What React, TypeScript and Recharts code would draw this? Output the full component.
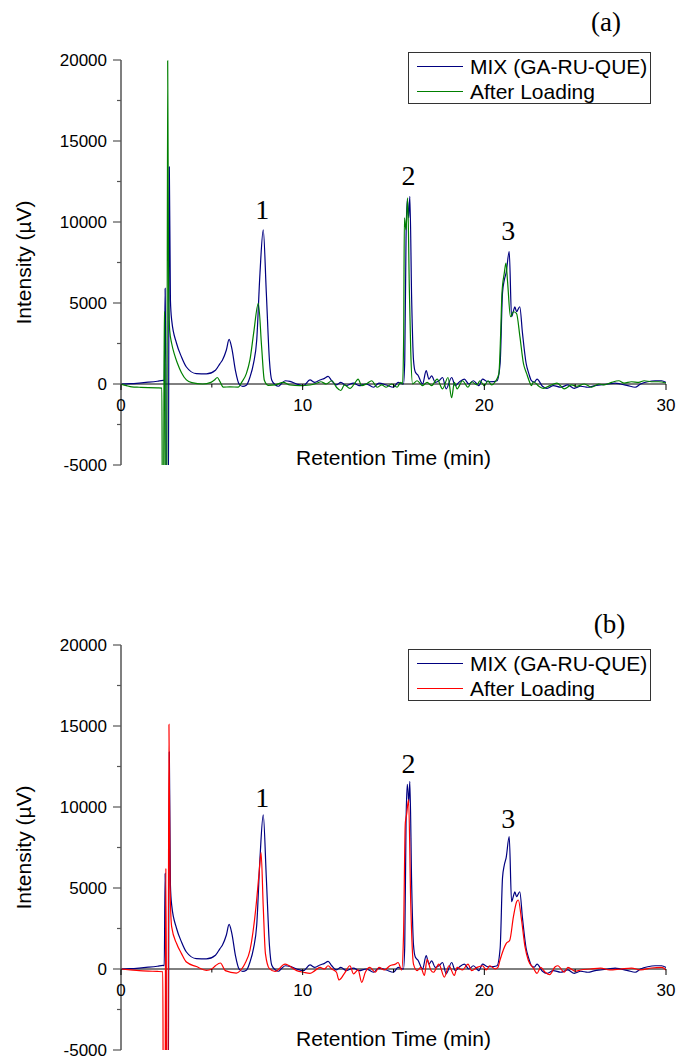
import { LineChart, Line, XAxis, YAxis, ReferenceLine, ReferenceDot, Legend } from "recharts";

// chromatogram traces as [retention time (min), intensity (µV)]
const mixTrace = [
  [0, 0], [0.5, 20], [1.0, 60], [1.5, 110], [2.0, 170], [2.32, 220], [2.38, 200], [2.43, 5900], [2.47, 1000],
  [2.51, -9000], [2.6, -9000], [2.66, 13400], [2.72, 5200], [2.79, 3940], [3.06, 2500], [3.33, 1670], [3.6, 1050],
  [4.15, 640], [4.7, 620], [5.2, 850], [5.45, 1260], [5.58, 1470], [5.8, 2100], [5.95, 2750], [6.1, 2200], [6.3, 830],
  [6.5, 0], [6.7, -150], [6.9, -80], [7.1, 430], [7.3, 1300], [7.47, 2700], [7.65, 6840], [7.83, 9520], [8.0, 5620],
  [8.17, 1470], [8.3, 230], [8.5, -60], [8.66, -140], [8.85, 50], [9.05, 200], [9.3, 160], [9.67, 0], [10.04, -100],
  [10.4, 250], [10.67, 100], [10.95, 250], [11.2, 350], [11.4, 470], [11.6, 200], [11.86, -60], [12.1, 100], [12.4, -100],
  [12.8, 60], [13.1, -100], [13.5, 0], [13.9, -200], [14.2, 60], [14.6, -60], [15.0, -200], [15.25, 100], [15.55, 0],
  [15.62, 1500], [15.69, 9000], [15.76, 11400], [15.84, 10250], [15.9, 11590], [16.0, 5200], [16.1, 1500], [16.2, 740],
  [16.35, 540], [16.6, 0], [16.8, 820], [16.95, 300], [17.1, 500], [17.3, 100], [17.5, 200], [17.7, 400], [17.9, -300],
  [18.2, 400], [18.4, -100], [18.6, 100], [18.9, 300], [19.15, 0], [19.4, 200], [19.7, -100], [19.9, 300], [20.2, 140],
  [20.5, 150], [20.7, 200], [20.87, 1280], [21.0, 5620], [21.1, 6420], [21.2, 6860], [21.37, 8180], [21.5, 4150],
  [21.6, 4500], [21.68, 4770], [21.77, 4460], [21.95, 4770], [22.1, 3140], [22.3, 1280], [22.45, 640], [22.58, 230],
  [22.75, 120], [22.9, 300], [23.2, -140], [23.45, -270], [23.8, -100], [24.2, -200], [24.6, -60], [24.95, -270],
  [25.3, -140], [25.7, -200], [26.1, -100], [26.4, -60], [26.8, 0], [27.2, 60], [27.5, 0], [27.9, -100], [28.3, -200],
  [28.6, 0], [29.0, 140], [29.4, 200], [29.76, 200], [30.0, 100],
];

const loadedTraceA = [
  [0, 0], [0.3, -100], [0.6, -180], [1.0, -200], [1.5, -220], [2.0, -240], [2.25, -250], [2.28, -9000], [2.34, -9000],
  [2.38, 4460], [2.41, 4460], [2.45, -9000], [2.52, -9000], [2.57, 19950], [2.62, 6000], [2.68, 3300], [2.79, 2500],
  [2.95, 1800], [3.1, 1300], [3.33, 700], [3.6, 250], [3.9, 80], [4.5, 0], [4.95, 100], [5.15, 250], [5.3, 400],
  [5.45, 150], [5.63, -190], [6.0, -180], [6.46, -190], [6.64, 100], [6.9, 640], [7.1, 1500], [7.3, 3120], [7.56, 4980],
  [7.74, 2300], [7.89, 230], [8.1, -80], [8.5, -50], [8.93, 100], [9.3, -60], [9.85, -100], [10.4, -60], [10.8, 60],
  [11.0, 140], [11.3, 0], [11.6, 200], [11.86, -200], [12.1, -400], [12.3, -60], [12.6, -270], [12.9, 100], [13.05, 300],
  [13.25, -100], [13.5, 0], [13.8, 200], [14.1, -200], [14.35, -60], [14.6, -200], [14.9, 0], [15.2, -200], [15.4, 100],
  [15.5, 0], [15.56, 3000], [15.6, 10250], [15.69, 9520], [15.78, 11490], [15.87, 6000], [15.95, 2000], [16.05, 0],
  [16.3, 200], [16.6, -100], [16.85, 100], [17.1, -100], [17.4, 300], [17.7, -300], [18.0, 400], [18.2, -850],
  [18.35, 100], [18.5, -300], [18.8, 200], [19.1, -200], [19.3, 140], [19.6, -60], [19.76, 200], [20.0, -100],
  [20.2, 200], [20.4, -60], [20.6, 140], [20.8, 640], [20.9, 3140], [20.97, 5600], [21.1, 6860], [21.19, 7460],
  [21.28, 6300], [21.44, 4150], [21.6, 4460], [21.77, 4360], [21.96, 2910], [22.15, 1280], [22.33, 640], [22.5, 100],
  [22.6, -100], [22.7, 140], [23.0, -140], [23.25, -270], [23.6, -100], [24.0, 60], [24.4, -300], [24.8, -60],
  [25.1, -140], [25.5, 0], [25.9, -200], [26.3, 0], [26.6, -60], [27.0, 100], [27.4, 200], [27.7, 60], [28.1, 140],
  [28.5, 100], [28.8, 200], [29.2, 140], [29.6, 140], [30.0, 60],
];

const loadedTraceB = [
  [0, 0], [0.5, -50], [1.0, -100], [1.5, -130], [2.0, -150], [2.3, -170], [2.33, -9000], [2.42, -9000], [2.47, 6220],
  [2.51, -9000], [2.58, -9000], [2.64, 15100], [2.7, 5000], [2.79, 2600], [3.06, 1570], [3.33, 950], [3.6, 430],
  [4.15, 150], [4.7, -80], [5.0, 0], [5.2, 200], [5.47, 370], [5.74, -100], [6.35, -250], [6.64, 0], [6.82, 330],
  [7.1, 1160], [7.43, 3840], [7.6, 5910], [7.71, 7190], [7.83, 3840], [7.95, 950], [8.17, 20], [8.48, -150], [9.03, 300],
  [9.67, -100], [10.04, -200], [10.4, -270], [10.67, -100], [10.95, 100], [11.2, 0], [11.4, 200], [11.6, 0], [11.86, -200],
  [12.0, -680], [12.3, -270], [12.6, 200], [12.8, -300], [13.05, -60], [13.25, -820], [13.45, -200], [13.7, 100],
  [14.0, -200], [14.2, 100], [14.5, -60], [14.8, 200], [15.1, 300], [15.25, 400], [15.45, -60], [15.55, 2000],
  [15.65, 9000], [15.72, 9520], [15.83, 10450], [15.95, 4000], [16.1, 300], [16.3, -100], [16.5, 100], [16.7, -400],
  [16.85, 600], [17.05, -60], [17.2, -200], [17.5, 300], [17.8, -500], [18.05, 200], [18.35, -400], [18.5, 100],
  [18.8, -60], [19.1, 300], [19.3, -100], [19.6, 100], [19.9, 200], [20.1, -60], [20.3, 200], [20.6, 0], [20.75, 100],
  [20.86, 540], [21.2, 1570], [21.4, 1780], [21.6, 3220], [21.78, 4150], [21.87, 4260], [22.05, 3020], [22.24, 1360],
  [22.42, 540], [22.7, 60], [22.9, -270], [23.1, 100], [23.35, -200], [23.6, -350], [23.9, 140], [24.05, 200],
  [24.4, -200], [24.6, 100], [25.0, -140], [25.3, -60], [25.85, 0], [26.4, 60], [26.9, -60], [27.5, 0], [28.1, 60],
  [28.6, -60], [29.2, 60], [29.76, 100], [30.0, -60],
];

// numbered peaks (time, height of the MIX peak)
const peakNames = ["1", "2", "3"];
const peakTimes = [7.78, 15.82, 21.32];
const peakHeights = [9520, 11590, 8180];

const xTicks = [0, 5, 10, 15, 20, 25, 30];
const yTicks = [-5000, -2500, 0, 2500, 5000, 7500, 10000, 12500, 15000, 17500, 20000];
const Y_MIN = -5000;
const Y_MAX = 20000;

const MIX_NAME = "MIX (GA-RU-QUE)";
const MIX_COLOR = "#000080";
const LOADED_NAME = "After Loading";

const SANS = "'Liberation Sans', Arial, sans-serif";
const SERIF = "'Liberation Serif', 'Times New Roman', serif";
const W = 677;
const H = 528;
const PLOT_H = 405;

const toRows = (trace: number[][]) => trace.map(([t, v]) => ({ t, v }));

const XTick = (props: any) => {
  const { x, y, payload, shift } = props;
  const y0 = y - shift;
  const major = payload.value % 10 === 0;
  return (
    <g>
      <line x1={x} x2={x} y1={y0} y2={y0 + (major ? 6 : 3.5)} stroke="#000" />
      {major && (
        <text x={x} y={y0 + 27} textAnchor="middle" fontSize={17} fontFamily={SANS} fill="#000">
          {payload.value}
        </text>
      )}
    </g>
  );
};

const YTick = (props: any) => {
  const { x, y, payload } = props;
  const major = payload.value % 5000 === 0;
  return (
    <g>
      <line x1={x - (major ? 8 : 4)} x2={x} y1={y} y2={y} stroke="#555" strokeWidth={1.2} />
      {major && (
        <text x={x - 14} y={y + 6} textAnchor="end" fontSize={17} fontFamily={SANS} fill="#000">
          {payload.value}
        </text>
      )}
    </g>
  );
};

const LegendBox = ({ entries }: { entries: { name: string; color: string }[] }) => (
  <div
    style={{
      width: 243,
      height: 52,
      boxSizing: "border-box",
      border: "1px solid #333",
      background: "#fff",
      paddingTop: 1,
      fontFamily: SANS,
      fontSize: 21,
      color: "#000",
    }}
  >
    {entries.map((e) => (
      <div key={e.name} style={{ display: "flex", alignItems: "center", height: 25 }}>
        <span style={{ width: 46, height: 0, borderTop: `1.3px solid ${e.color}`, marginLeft: 8, marginRight: 7 }} />
        <span style={{ whiteSpace: "nowrap" }}>{e.name}</span>
      </div>
    ))}
  </div>
);

interface PanelProps {
  tag: string;
  tagX: number;
  tagY: number;
  top: number;
  legendTop: number;
  titleOffset: number;
  peakOffset: number;
  loaded: number[][];
  loadedColor: string;
}

function Panel({ tag, tagX, tagY, top, legendTop, titleOffset, peakOffset, loaded, loadedColor }: PanelProps) {
  const zeroShift = (PLOT_H * (0 - Y_MIN)) / (Y_MAX - Y_MIN);
  const entries = [
    { name: MIX_NAME, color: MIX_COLOR },
    { name: LOADED_NAME, color: loadedColor },
  ];
  return (
    <LineChart width={W} height={H} margin={{ top, right: 11, left: 0, bottom: H - top - PLOT_H - 1 }}>
      <XAxis
        type="number"
        dataKey="t"
        domain={[0, 30]}
        ticks={xTicks}
        interval={0}
        allowDataOverflow
        axisLine={false}
        tickLine={false}
        tickSize={0}
        tickMargin={0}
        height={1}
        tick={(p: any) => <XTick {...p} shift={zeroShift} />}
        label={{ value: "Retention Time (min)", position: "top", offset: titleOffset, fontSize: 21, fontFamily: SANS, fill: "#000" }}
      />
      <YAxis
        type="number"
        domain={[Y_MIN, Y_MAX]}
        ticks={yTicks}
        interval={0}
        allowDataOverflow
        width={121}
        axisLine={{ stroke: "#555", strokeWidth: 1.5 }}
        tickLine={false}
        tickSize={0}
        tickMargin={0}
        tick={(p: any) => <YTick {...p} />}
        label={{
          value: "Intensity (µV)",
          angle: -90,
          position: "insideLeft",
          offset: 23.5,
          fontSize: 21,
          fontFamily: SANS,
          fill: "#000",
          style: { textAnchor: "middle" },
        }}
      />
      <ReferenceLine y={0} stroke="#000" strokeWidth={1} />
      <Line
        data={toRows(mixTrace)}
        dataKey="v"
        name={MIX_NAME}
        type="monotone"
        stroke={MIX_COLOR}
        strokeWidth={1.2}
        dot={false}
        isAnimationActive={false}
      />
      <Line
        data={toRows(loaded)}
        dataKey="v"
        name={LOADED_NAME}
        type="monotone"
        stroke={loadedColor}
        strokeWidth={1.2}
        dot={false}
        isAnimationActive={false}
      />
      {peakNames.map((n, i) => (
        <ReferenceDot
          key={n}
          x={peakTimes[i]}
          y={peakHeights[i]}
          r={0}
          fill="none"
          stroke="none"
          label={{ value: n, position: "top", offset: peakOffset, fontSize: 28, fontFamily: SERIF, fill: "#000" }}
        />
      ))}
      <Legend
        layout="vertical"
        align="center"
        verticalAlign="middle"
        content={() => <LegendBox entries={entries} />}
        wrapperStyle={{ left: 408, top: legendTop, width: 243, height: 52 }}
      />
      <text x={tagX} y={tagY} textAnchor="middle" fontSize={27} fontFamily={SERIF} fill="#000">
        {tag}
      </text>
    </LineChart>
  );
}

export default function App() {
  return (
    <div style={{ position: "absolute", left: 0, top: 0, width: W, height: 1056, background: "#fff" }}>
      <div style={{ position: "absolute", left: 0, top: 0 }}>
        <Panel
          tag="(a)"
          tagX={606}
          tagY={31}
          top={60}
          legendTop={52}
          titleOffset={0}
          peakOffset={11}
          loaded={loadedTraceA}
          loadedColor="#008000"
        />
      </div>
      <div style={{ position: "absolute", left: 0, top: 528 }}>
        <Panel
          tag="(b)"
          tagX={609.5}
          tagY={105}
          top={117}
          legendTop={121}
          titleOffset={4}
          peakOffset={8}
          loaded={loadedTraceB}
          loadedColor="#ff0000"
        />
      </div>
    </div>
  );
}
